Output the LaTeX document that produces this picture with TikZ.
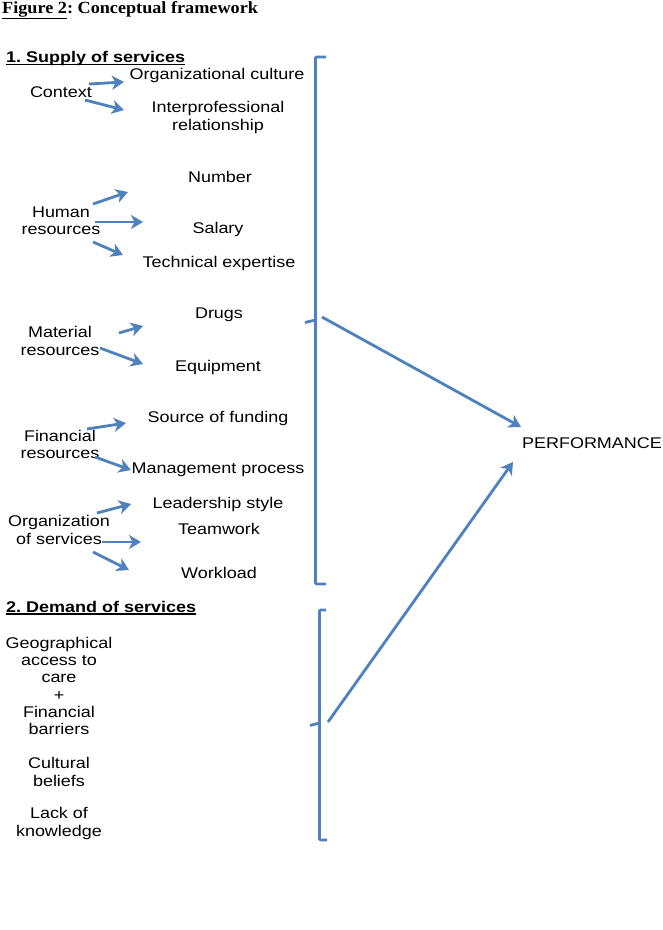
\documentclass[tikz,border=0pt]{standalone}
\usepackage{fontspec}
\setmainfont{Liberation Sans}[FakeStretch=1.16]
\newfontfamily\titlefont{Liberation Serif}[FakeStretch=1.07]
\usetikzlibrary{arrows.meta}
\frenchspacing
\definecolor{accentblue}{RGB}{79,129,189}
\tikzset{
  lbl/.style={inner sep=0pt, align=center, font=\fontsize{15.5}{17.3}\selectfont, text=black},
  head/.style={inner sep=0pt, anchor=base west, font=\fontsize{15.5}{17.3}\selectfont\bfseries},
  arr/.style={draw=accentblue, line width=2.8pt, -{Stealth[length=12pt,width=14pt,inset=3.5pt]}},
  brk/.style={draw=accentblue, line width=2.8pt, rounded corners=1pt},
  uline/.style={draw=black, line width=1.2pt}
}
\begin{document}
\begin{tikzpicture}[x=1pt,y=-1pt]
\useasboundingbox (0,0) rectangle (663,930);

% title
\node[inner sep=0pt, anchor=base west, font=\titlefont\fontsize{17}{19}\selectfont\bfseries] (title) at (2,13) {\underline{Figure 2}: Conceptual framework};

% headings
\node[head] (h1) at (6,62.5) {1. Supply of services};
\draw[uline] ([yshift=-2pt]h1.base west) -- ([yshift=-2pt]h1.base east);
\node[head] (h2) at (6,612) {2. Demand of services};
\draw[uline] ([yshift=-2pt]h2.base west) -- ([yshift=-2pt]h2.base east);

% context
\node[lbl] (ctx) at (61,92) {Context};
\node[lbl] (oc) at (217,75) {Organizational culture};
\node[lbl] (ipr) at (218,117.5) {Interprofessional\\relationship};
\coordinate (c1s) at (89,84); \coordinate (c1e) at (124,82);
\coordinate (c2s) at (85,100); \coordinate (c2e) at (124,110);
\draw[arr] (c1s) -- (c1e);
\draw[arr] (c2s) -- (c2e);

% human resources
\node[lbl] (hr) at (61,220.5) {Human\\resources};
\node[lbl] (num) at (220,177) {Number};
\node[lbl] (sal) at (218,229) {Salary};
\node[lbl] (tex) at (219,263) {Technical expertise};
\coordinate (h1s) at (93,204); \coordinate (h1e) at (128,192);
\coordinate (h2s) at (95,222); \coordinate (h2e) at (143,222);
\coordinate (h3s) at (93,242); \coordinate (h3e) at (123,255);
\draw[arr] (h1s) -- (h1e);
\draw[arr] (h2s) -- (h2e);
\draw[arr] (h3s) -- (h3e);

% material resources
\node[lbl] (mr) at (60,341) {Material\\resources};
\node[lbl] (drg) at (219,315) {Drugs};
\node[lbl] (eqp) at (218,367) {Equipment};
\coordinate (m1s) at (119,333); \coordinate (m1e) at (143,326);
\coordinate (m2s) at (100,348); \coordinate (m2e) at (143,364);
\draw[arr] (m1s) -- (m1e);
\draw[arr] (m2s) -- (m2e);

% financial resources
\node[lbl] (fr) at (60,444.5) {Financial\\resources};
\node[lbl] (sof) at (218,418) {Source of funding};
\node[lbl] (mgp) at (218,470) {Management process};
\coordinate (f1s) at (87,429); \coordinate (f1e) at (126,423);
\coordinate (f2s) at (95,457); \coordinate (f2e) at (131,470);
\draw[arr] (f1s) -- (f1e);
\draw[arr] (f2s) -- (f2e);

% organization of services
\node[lbl] (os) at (59,530) {Organization\\of services};
\node[lbl] (lds) at (218,504) {Leadership style};
\node[lbl] (tmw) at (219,529) {Teamwork};
\node[lbl] (wkl) at (219,573) {Workload};
\coordinate (o1s) at (97,513); \coordinate (o1e) at (131,504);
\coordinate (o2s) at (102,542); \coordinate (o2e) at (141,542);
\coordinate (o3s) at (93,552); \coordinate (o3e) at (129,570);
\draw[arr] (o1s) -- (o1e);
\draw[arr] (o2s) -- (o2e);
\draw[arr] (o3s) -- (o3e);

% demand
\node[lbl] (geo) at (59,686) {Geographical\\access to\\care\\+\\Financial\\barriers};
\node[lbl] (cul) at (59,772) {Cultural\\beliefs};
\node[lbl] (lok) at (59,823.5) {Lack of\\knowledge};

% brackets
\draw[brk] (326,57) -- (315.5,57) -- (315.5,584) -- (326,584);
\draw[brk] (305,322.5) .. controls (310,322) .. (315.5,320);
\draw[brk] (326,610) -- (319.5,610) -- (319.5,840) -- (327,840);
\draw[brk] (310,725.5) .. controls (315,725) .. (319.5,723);
\coordinate (b1) at (322,317);
\coordinate (b2) at (328,722);

% performance
\node[lbl] (perf) at (592,443) {PERFORMANCE};
\coordinate (p1) at (521,427);
\coordinate (p2) at (513,462);
\draw[arr] (b1) -- (p1);
\draw[arr] (b2) -- (p2);
\end{tikzpicture}
\end{document}
